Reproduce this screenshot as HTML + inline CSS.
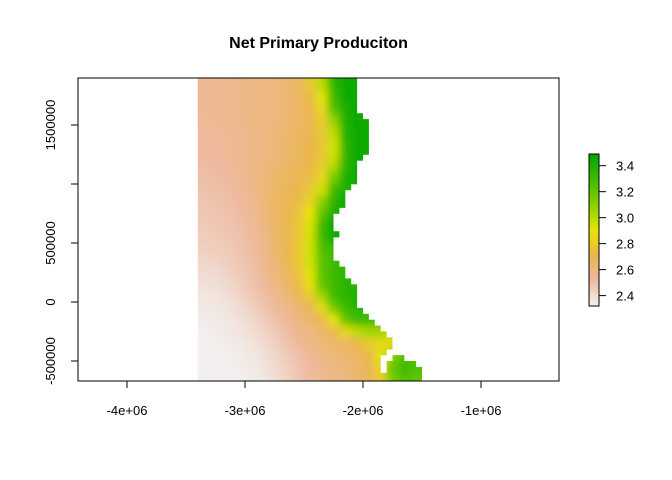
<!DOCTYPE html>
<html><head><meta charset="utf-8"><style>
html,body{margin:0;padding:0;background:#fff;}
svg{display:block;font-family:"Liberation Sans",Arial,sans-serif;}
</style></head><body>
<svg id="chart" width="672" height="480" viewBox="0 0 672 480">
<defs>
<filter id="blur" x="-10%" y="-10%" width="120%" height="120%"><feGaussianBlur stdDeviation="4"/></filter>
<clipPath id="rasterClip"></clipPath>
<clipPath id="plotClip"><rect x="78" y="78" width="481" height="303"/></clipPath>
</defs>
<text x="318.5" y="48" text-anchor="middle" font-weight="bold" font-size="16">Net Primary Produciton</text>
<g clip-path="url(#plotClip)"><g clip-path="url(#rasterClip)"><g id="cells" filter="url(#blur)"></g></g></g>
<rect x="78" y="78" width="481" height="303" fill="none" stroke="#000" stroke-width="1"/>
<g id="xaxis"></g><g id="yaxis"></g><g id="legend"></g>
</svg>
<script>
// ---- data ----
const xTicks = [-4e6, -3e6, -2e6, -1e6];
const xTickLabels = ["-4e+06", "-3e+06", "-2e+06", "-1e+06"];
const yTicks = [-500000, 0, 500000, 1000000, 1500000];
const yTickLabels = ["-500000", "0", "500000", "", "1500000"];
const legendTicks = [2.4, 2.6, 2.8, 3.0, 3.2, 3.4];
const legendLabels = ["2.4", "2.6", "2.8", "3.0", "3.2", "3.4"];
const gridX0 = -3.4e6, gridY0 = 1.9e6, cellSize = 100000;
const values = [
[2.55,2.55,2.56,2.57,2.58,2.59,2.60,2.62,2.66,2.78,3.00,3.35,3.45,3.45],
[2.55,2.55,2.56,2.57,2.58,2.59,2.60,2.62,2.66,2.74,2.92,3.30,3.45,3.45],
[2.55,2.55,2.56,2.57,2.58,2.59,2.60,2.62,2.65,2.71,2.86,3.25,3.42,3.45],
[2.54,2.55,2.56,2.57,2.58,2.59,2.60,2.62,2.65,2.70,2.80,3.10,3.40,3.45],
[2.53,2.54,2.55,2.56,2.57,2.59,2.61,2.63,2.66,2.70,2.78,3.00,3.38,3.45],
[2.52,2.53,2.54,2.55,2.57,2.59,2.61,2.64,2.67,2.71,2.77,2.95,3.35,3.45],
[2.52,2.53,2.54,2.55,2.57,2.59,2.61,2.64,2.67,2.71,2.77,2.95,3.35,3.45],
[2.51,2.52,2.53,2.55,2.57,2.60,2.63,2.66,2.69,2.72,2.80,3.02,3.35,3.45],
[2.50,2.51,2.52,2.54,2.57,2.60,2.64,2.67,2.70,2.74,2.84,3.15,3.40,3.45],
[2.49,2.50,2.51,2.53,2.56,2.60,2.65,2.68,2.71,2.78,2.95,3.30,3.40],
[2.48,2.49,2.50,2.52,2.55,2.60,2.66,2.69,2.73,2.84,3.10,3.35,3.45],
[2.47,2.48,2.49,2.51,2.54,2.59,2.66,2.70,2.76,2.90,3.20,3.40,3.45],
[2.46,2.47,2.48,2.50,2.53,2.58,2.65,2.70,2.77,2.93,3.30,3.48,3.48],
[2.45,2.46,2.47,2.49,2.52,2.57,2.64,2.70,2.78,2.95,3.30,3.45],
[2.44,2.45,2.46,2.48,2.51,2.56,2.63,2.70,2.78,2.95,3.25,3.30],
[2.42,2.43,2.45,2.47,2.50,2.55,2.62,2.69,2.78,2.95,3.22,3.30,3.35],
[2.40,2.41,2.43,2.46,2.49,2.54,2.60,2.67,2.76,2.92,3.22,3.30,3.35],
[2.38,2.39,2.41,2.44,2.48,2.52,2.58,2.65,2.73,2.88,3.20,3.30,3.35],
[2.36,2.37,2.39,2.42,2.46,2.50,2.55,2.61,2.68,2.80,3.05,3.30,3.35,3.40],
[2.35,2.36,2.37,2.40,2.43,2.47,2.52,2.57,2.63,2.70,2.85,3.15,3.30,3.35],
[2.34,2.35,2.36,2.38,2.41,2.45,2.49,2.54,2.59,2.64,2.72,2.90,3.20,3.30],
[2.33,2.34,2.35,2.37,2.39,2.42,2.46,2.51,2.56,2.60,2.64,2.72,2.85,3.00,3.05],
[2.33,2.33,2.34,2.35,2.37,2.40,2.44,2.48,2.53,2.57,2.61,2.64,2.67,2.72,2.80,2.85],
[2.33,2.33,2.33,2.34,2.36,2.38,2.42,2.46,2.50,2.54,2.58,2.61,2.63,2.66,2.72,2.90,3.10,3.25,3.25],
[2.33,2.33,2.33,2.34,2.35,2.37,2.40,2.44,2.48,2.52,2.56,2.59,2.61,2.64,2.70,2.85,3.20,3.30,3.25],
[2.33,2.33,2.33,2.33,2.34,2.36,2.39,2.43,2.47,2.51,2.55,2.58,2.60,2.63,2.68,2.80,3.15,3.25,3.20]
];
const maskRowHeight = 50000;
const mainEdge = [
-2.05e6,-2.05e6,-2.05e6,-2.05e6,-2.05e6,-2.05e6,-2.0e6,-1.95e6,-1.95e6,-1.95e6,
-1.95e6,-1.95e6,-1.95e6,-2.0e6,-2.05e6,-2.05e6,-2.05e6,-2.05e6,-2.1e6,-2.15e6,
-2.15e6,-2.15e6,-2.2e6,-2.25e6,-2.25e6,-2.25e6,-2.2e6,-2.25e6,-2.25e6,-2.25e6,
-2.25e6,-2.2e6,-2.15e6,-2.15e6,-2.1e6,-2.05e6,-2.05e6,-2.05e6,-2.05e6,-2.0e6,
-1.95e6,-1.9e6,-1.85e6,-1.8e6,-1.75e6,-1.75e6,-1.8e6,-1.85e6,-1.85e6,-1.85e6,
-1.5e6,-1.5e6,-1.5e6];
const islandStart = {47:-1.75e6, 48:-1.8e6, 49:-1.8e6};
const islandEnd = {47:-1.65e6, 48:-1.55e6, 49:-1.5e6};

// ---- scales ----
const xScale = v => 363 + (v + 2e6) / 1e6 * 118;
const yScale = v => 302 - v / 1e6 * 118;
const lTop = 154, lBot = 306, lMin = 2.32, lMax = 3.49;
const lScale = v => lBot - (v - lMin) / (lMax - lMin) * (lBot - lTop);
const NS = "http://www.w3.org/2000/svg";
function mk(tag, attrs, parent) { const e = document.createElementNS(NS, tag); for (const k in attrs) e.setAttribute(k, attrs[k]); parent.appendChild(e); return e; }

function hex(c){return [parseInt(c.slice(1,3),16),parseInt(c.slice(3,5),16),parseInt(c.slice(5,7),16)];}
const stops = [[2.32,"#F2F2F2"],[2.52,"#EEB99F"],[2.71,"#EAB64E"],[2.905,"#E6E600"],[3.49,"#00A600"]];
function color(v){
  if (v <= stops[0][0]) return stops[0][1];
  if (v >= 2.905) {
    const t = Math.min(1,(v-2.905)/(3.49-2.905));
    const V = 0.902 - 0.251*t;
    const r = V*(1-t), g = V;
    return `rgb(${Math.round(r*255)},${Math.round(g*255)},0)`;
  }
  for (let i=0;i<stops.length-1;i++){
    const [a,ca]=stops[i],[b,cb]=stops[i+1];
    if (v<=b){const t=(v-a)/(b-a);const A=hex(ca),B=hex(cb);
      return `rgb(${A.map((x,j)=>Math.round(x+(B[j]-x)*t)).join(",")})`;}
  }
}

// ---- raster cells ----
const cells = document.getElementById("cells");
const nCols = 19;
values.forEach((row, r) => {
  for (let c = 0; c < nCols; c++) {
    const v = row[Math.min(c, row.length - 1)];
    let x0 = xScale(gridX0 + c * cellSize), x1 = xScale(gridX0 + (c + 1) * cellSize);
    let y0 = yScale(gridY0 - r * cellSize), y1 = yScale(gridY0 - (r + 1) * cellSize);
    if (c === 0) x0 -= 20; if (c === nCols - 1) x1 += 20;
    if (r === 0) y0 -= 20; if (r === values.length - 1) y1 += 20;
    const rect = mk("rect", {x: x0, y: y0, width: x1 - x0 + 0.5, height: y1 - y0 + 0.5, fill: color(v)}, cells);
    
    
  }
});
const clipEl = document.getElementById("rasterClip");
mainEdge.forEach((edge, i) => {
  const y0 = yScale(gridY0 - i * maskRowHeight), y1 = yScale(gridY0 - (i + 1) * maskRowHeight);
  mk("rect", {x: xScale(gridX0), y: y0, width: xScale(edge) - xScale(gridX0), height: y1 - y0 + 0.3}, clipEl);
  if (islandStart[i] !== undefined) {
    mk("rect", {x: xScale(islandStart[i]), y: y0, width: xScale(islandEnd[i]) - xScale(islandStart[i]), height: y1 - y0 + 0.3}, clipEl);
  }
});

// ---- axes ----
const xa = document.getElementById("xaxis");
xTicks.forEach((t, i) => {
  const x = xScale(t);
  const l = mk("line", {x1: x, x2: x, y1: 381, y2: 388, stroke: "#000"}, xa);
  
  
  const tx = mk("text", {x: x, y: 415, "text-anchor": "middle", "font-size": 13}, xa);
  tx.textContent = xTickLabels[i];
  
  
});
const ya = document.getElementById("yaxis");
yTicks.forEach((t, i) => {
  const y = yScale(t);
  const l = mk("line", {x1: 71, x2: 78, y1: y, y2: y, stroke: "#000"}, ya);
  
  
  if (yTickLabels[i]) {
    const tx = mk("text", {x: 0, y: 0, "text-anchor": "middle", "font-size": 13, transform: `translate(55,${y}) rotate(-90)`}, ya);
    tx.textContent = yTickLabels[i];
    
    
  }
});

// ---- legend ----
const lg = document.getElementById("legend");
for (let p = lTop; p < lBot; p += 1) {
  const v = lMax - (p + 0.5 - lTop) / (lBot - lTop) * (lMax - lMin);
  mk("rect", {x: 589, y: p, width: 10, height: 1.2, fill: color(v)}, lg);
}
const frame = mk("rect", {x: 589, y: lTop, width: 10, height: lBot - lTop, fill: "none", stroke: "#000"}, lg);


legendTicks.forEach((t, i) => {
  const y = lScale(t);
  mk("line", {x1: 599, x2: 606, y1: y, y2: y, stroke: "#000"}, lg);
  const tx = mk("text", {x: 616, y: y + 5, "font-size": 13}, lg);
  tx.textContent = legendLabels[i];
  
  
});
</script>
</body></html>
